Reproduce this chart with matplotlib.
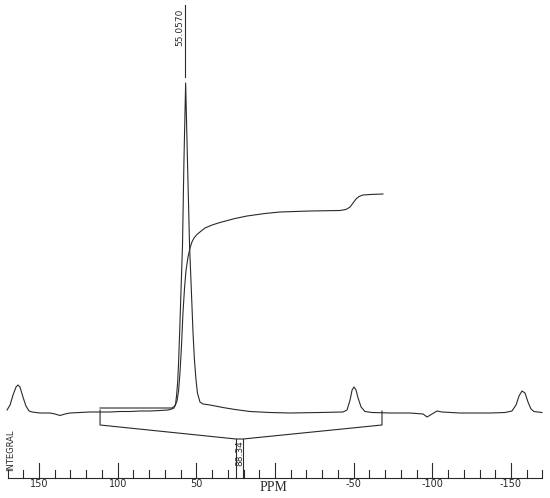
import matplotlib
matplotlib.use("Agg")
import matplotlib.pyplot as plt

# ---- spectrum (ppm, relative intensity) ----
spec_ppm = [170.3, 168.4, 166.5, 164.6, 163.4, 162.1, 160.2, 158.3, 156.3, 154.5,
            149.4, 143.0, 139.8, 136.7, 133.5, 130.3, 124.0, 117.6, 111.2, 104.9,
            98.5, 92.2, 85.8, 79.5, 73.1, 68.0, 66.7, 64.8, 64.2, 63.2,
            62.6, 61.9, 61.3, 60.5, 59.8, 58.8, 57.9, 56.8, 55.6, 54.3,
            53.1, 52.1, 51.2, 50.2, 49.3, 47.7, 45.8, 41.3, 33.1, 25.4,
            15.9, 3.2, -9.5, -28.6, -43.2, -45.8, -47.7, -49.0, -50.2, -51.5,
            -52.8, -54.7, -57.2, -61.7, -73.1, -85.8, -94.1, -96.7, -99.8, -103.0,
            -106.1, -117.6, -136.7, -146.2, -150.6, -153.2, -155.1, -157.0, -158.9, -160.8,
            -162.7, -164.6, -169.7]
spec_int = [3, 8, 18, 26, 28, 26, 16, 7, 2, 1,
            0, 0, -1, -2.5, -1, 0, 0.5, 1, 1, 1,
            1.5, 1.5, 2, 2, 2.5, 3, 3.5, 4.5, 5, 9,
            17, 30, 50, 85, 120, 167, 250, 330, 250, 167,
            120, 80, 53, 33, 20, 11, 9, 8, 5.5, 3.5,
            1.5, 0.5, 0, 0.5, 1, 3, 13, 23, 26, 23,
            15, 6, 1.5, 0.5, 0, 0, -1, -4, -1, 2,
            1, 0, 0, 0.5, 2, 8, 17, 22, 20, 11,
            4, 1.5, 0.5]

# ---- integral trace ----
integ_ppm = [111.2, 65.5, 63.6, 62.3, 61.3, 60.4, 59.4, 58.5, 57.5, 56.6,
             55.3, 54.0, 52.8, 51.5, 49.6, 47.7, 44.5, 40.0, 35.0, 25.4,
             17.8, 6.4, -3.2, -22.2, -41.3, -45.1, -47.7, -49.6, -51.5, -53.4,
             -55.9, -60.4, -68.6]
integ_val = [5, 5, 7, 12, 22, 40, 68, 100, 125, 142,
             156, 165, 171, 175, 178.5, 181, 185, 188, 190.5, 194.5,
             197, 199.5, 201, 202, 202.5, 203.5, 206, 210, 214, 216.5,
             218, 218.5, 219]

# ---- annotations ----
peak_label = "55.0570"
integral_label = "88.34"
integral_range = [111.2, -68.0]     # ppm limits of the integral region
integral_box = [24.8, 20.3]         # ppm of the value box
major_ticks = [150, 100, 50, 0, -50, -100, -150]
tick_labels = ["150", "100", "50", "", "-50", "-100", "-150"]
minor_ticks = list(range(170, -171, -10))
axis_label = "PPM"

col = "#2a2a2a"
lw = 0.8

fig = plt.figure(figsize=(5.5, 4.98), dpi=100)
ax = fig.add_axes([0, 0, 1, 1])
ax.set_xlim(174.79, -174.79)
ax.set_ylim(-85, 413)
ax.axis("off")

ax.plot(spec_ppm, spec_int, color=col, lw=lw)
ax.plot(integ_ppm, integ_val, color=col, lw=lw)

# peak marker and label
ax.plot([57.2, 57.2], [336, 408], color=col, lw=lw)
ax.text(60.4, 386, peak_label, rotation=90, ha="center", va="center",
        fontsize=6.5, color=col, family="DejaVu Sans")

# integral bracket
l, r = integral_range
bl, br = integral_box
ax.plot([l, l, bl, br, r, r], [3, -12, -26, -26, -12, 2], color=col, lw=lw)
ax.plot([bl, bl], [-26, -65], color=col, lw=lw)
ax.plot([br, br], [-26, -65], color=col, lw=lw)
ax.text((bl + br) / 2, -40, integral_label, rotation=90, ha="center", va="center",
        fontsize=6.5, color=col, family="DejaVu Sans")
ax.text(167.8, -37, "INTEGRAL", rotation=90, ha="center", va="center",
        fontsize=6, color=col, family="DejaVu Sans")

# ppm axis
ax.plot([170, -170], [-65, -65], color=col, lw=lw)
for t in minor_ticks:
    top = -50 if t in major_ticks else -57
    ax.plot([t, t], [-65, top], color=col, lw=lw)
for t, lab in zip(major_ticks, tick_labels):
    if lab:
        ax.text(t, -70.5, lab, ha="center", va="center", fontsize=7,
                color=col, family="DejaVu Sans")
ax.text(0.9, -74.5, axis_label, ha="center", va="center", fontsize=10,
        color=col, family="Liberation Serif")

fig.savefig("out.png", dpi=100)
